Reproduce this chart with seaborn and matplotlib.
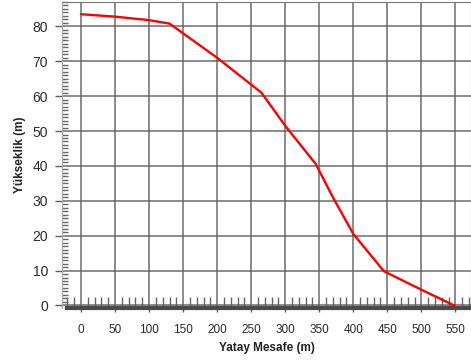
import matplotlib
matplotlib.use("Agg")
import matplotlib.pyplot as plt
import seaborn as sns
import pandas as pd
from matplotlib.ticker import MultipleLocator

# Data
mesafe = [0, 50, 100, 130, 200, 265, 300, 345, 370, 400, 445, 500, 548]
yukseklik = [83.5, 82.8, 81.8, 80.8, 71.0, 61.0, 51.5, 40.5, 31.0, 20.5, 9.8, 4.5, 0.0]
x_ticks = [0, 50, 100, 150, 200, 250, 300, 350, 400, 450, 500, 550]
y_ticks = [0, 10, 20, 30, 40, 50, 60, 70, 80]

df = pd.DataFrame({"Yatay Mesafe (m)": mesafe, "Yükseklik (m)": yukseklik})

sns.set_style("white")
plt.rcParams["font.family"] = ["Liberation Sans", "DejaVu Sans"]

fig = plt.figure(figsize=(4.71, 3.62), dpi=100)
ax = fig.add_axes([62 / 471, 54.5 / 362, 1 - 62 / 471, (360 - 54.5) / 362])

grid_c = "#5c5c5c"
ax.set_xlim(-28, 573)
ax.set_ylim(-0.6, 87.0)
ax.set_xticks(x_ticks)
ax.set_yticks(y_ticks)
ax.xaxis.set_minor_locator(MultipleLocator(10))
ax.yaxis.set_minor_locator(MultipleLocator(1))
ax.grid(True, which="major", color=grid_c, lw=1.1, alpha=0.9)
ax.set_axisbelow(True)

sns.lineplot(data=df, x="Yatay Mesafe (m)", y="Yükseklik (m)", sort=False,
             color="#ff0000", lw=1.7, ax=ax, zorder=5)

ax.tick_params(which="both", bottom=True, left=True, top=False, right=False)
ax.tick_params(axis="both", which="major", direction="out", length=5, width=1.0,
               color=grid_c)
ax.tick_params(axis="y", which="major", pad=5, labelsize=10, labelcolor="#2a2a2a")
ax.tick_params(axis="x", which="major", length=3, pad=9, labelsize=8.5, labelcolor="#2a2a2a")
ax.tick_params(axis="both", which="minor", direction="in", width=1.0, color="#666666")
ax.tick_params(axis="y", which="minor", length=4.5)
ax.tick_params(axis="x", which="minor", length=8)

for s in ["top", "right"]:
    ax.spines[s].set_visible(True)
    ax.spines[s].set_color("#777777")
    ax.spines[s].set_linewidth(0.8)
ax.spines["left"].set_color("#aaaaaa")
ax.spines["left"].set_linewidth(0.8)
ax.spines["bottom"].set_color("#4a4a4a")
ax.spines["bottom"].set_linewidth(3.0)
ax.spines["bottom"].set_bounds(-21, 573)

ax.set_xlabel("Yatay Mesafe (m)", fontsize=8.5, fontweight="bold", color="#222222", labelpad=4)
ax.set_ylabel("Yükseklik (m)", fontsize=8.5, fontweight="bold", color="#222222", labelpad=5)

fig.savefig("out.png", dpi=100, facecolor="white")
